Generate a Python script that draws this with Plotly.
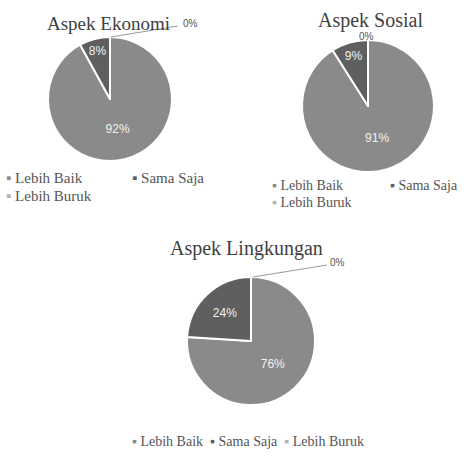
import plotly.graph_objects as go

# Survey responses per aspect (percent)
categories = ["Lebih Baik", "Sama Saja", "Lebih Buruk"]
ekonomi = [92, 8, 0]
sosial = [91, 9, 0]
lingkungan = [76, 24, 0]
titles = ["Aspek Ekonomi", "Aspek Sosial", "Aspek Lingkungan"]

slice_colors = ["#8a8a8a", "#5f5f5f", "#b4b4b4"]
W, H = 466, 457


def px_x(x):
    return x / W


def px_y(y):
    return 1 - y / H


def circle_domain(cx, cy, r):
    return dict(x=[px_x(cx - r), px_x(cx + r)], y=[px_y(cy + r), px_y(cy - r)])


pies = [
    (ekonomi, (110, 99, 62)),
    (sosial, (368, 106, 66)),
    (lingkungan, (251, 341, 64)),
]

fig = go.Figure()
for vals, (cx, cy, r) in pies:
    fig.add_trace(go.Pie(
        labels=categories,
        values=vals,
        text=[f"{v}%" if v > 0 else "" for v in vals],
        textinfo="text",
        textposition="inside",
        insidetextorientation="horizontal",
        insidetextfont=dict(family="Liberation Sans, Arial", size=12, color="#f2f2f2"),
        sort=False,
        direction="clockwise",
        rotation=0,
        marker=dict(colors=slice_colors, line=dict(color="white", width=2)),
        domain=circle_domain(cx, cy, r),
        showlegend=False,
        hoverinfo="label+percent",
    ))

ann = []
serif = "Liberation Serif"

# Chart titles
title_pos = [(108, 23, 19), (370, 21, 20), (246, 248, 20)]
for t, (x, y, s) in zip(titles, title_pos):
    ann.append(dict(text=t, x=px_x(x), y=px_y(y), xref="paper", yref="paper",
                    showarrow=False, xanchor="center", yanchor="middle",
                    font=dict(family=serif, size=s, color="#3f3f3f")))

# Labels for the zero-valued "Lebih Buruk" slices
zero_pos = [(190, 23), (366, 36), (337, 262)]
for vals, (x, y) in zip([ekonomi, sosial, lingkungan], zero_pos):
    ann.append(dict(text=f"{vals[2]}%", x=px_x(x), y=px_y(y), xref="paper", yref="paper",
                    showarrow=False, xanchor="center", yanchor="middle",
                    font=dict(family="Liberation Sans, Arial", size=10, color="#555555")))

# Leader lines from the top of the pies to the zero labels
shapes = [
    dict(type="line", xref="paper", yref="paper",
         x0=px_x(111), y0=px_y(37), x1=px_x(178), y1=px_y(26),
         line=dict(color="#9a9a9a", width=1)),
    dict(type="line", xref="paper", yref="paper",
         x0=px_x(253), y0=px_y(277), x1=px_x(327), y1=px_y(265),
         line=dict(color="#9a9a9a", width=1)),
]


def legend_item(label, color, x, y, size):
    return dict(text=f"<span style='color:{color}'>▪</span> {label}",
                x=px_x(x), y=px_y(y), xref="paper", yref="paper",
                showarrow=False, xanchor="left", yanchor="middle",
                font=dict(family=serif, size=size, color="#555555"))


# Legend for Aspek Ekonomi (two rows)
leg1 = [(4, 178), (130, 178), (4, 196)]
for lab, col, (x, y) in zip(categories, slice_colors, leg1):
    ann.append(legend_item(lab, col, x, y, 15))

# Legend for Aspek Sosial (two rows)
leg2 = [(270, 185), (388, 185), (270, 203)]
for lab, col, (x, y) in zip(categories, slice_colors, leg2):
    ann.append(legend_item(lab, col, x, y, 14))

# Legend for Aspek Lingkungan (one row)
leg3_text = "  ".join(f"<span style='color:{c}'>▪</span> {lab}"
                      for lab, c in zip(categories, slice_colors))
ann.append(dict(text=leg3_text, x=px_x(248), y=px_y(441), xref="paper", yref="paper",
                showarrow=False, xanchor="center", yanchor="middle",
                font=dict(family=serif, size=14, color="#555555")))

fig.update_layout(
    width=W, height=H,
    margin=dict(l=0, r=0, t=0, b=0),
    paper_bgcolor="white",
    plot_bgcolor="white",
    annotations=ann,
    shapes=shapes,
)

fig.write_html("out.html")
